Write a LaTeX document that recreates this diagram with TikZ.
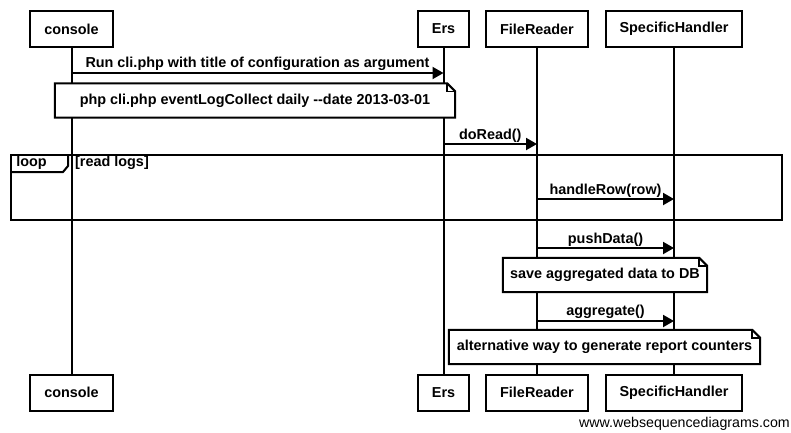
\documentclass[tikz,border=0pt]{standalone}
\usepackage{fontspec}
\setmainfont{Liberation Sans}
\usetikzlibrary{arrows.meta}

\begin{document}
\begin{tikzpicture}[
    x=1pt, y=-1pt,  % repère en pixels, y vers le bas
    every node/.style={font=\bfseries\fontsize{14.4}{16}\selectfont},
    acteur/.style={draw, line width=2pt, fill=white, minimum height=36pt, inner xsep=14pt},
    ligne/.style={line width=2pt},
    msg/.style={line width=2pt, -{Triangle[length=11pt,width=12pt]}}, % flèche pleine
    note/.style={fill=white, minimum height=34pt}
]
\useasboundingbox (0,0) rectangle (791,432);

% Acteurs en haut
\node[acteur] (console) at (71.5,29) {console};
\node[acteur] (ers) at (443.5,29) {Ers};
\node[acteur] (reader) at (537,29) {FileReader};
\node[acteur] (handler) at (674,29) {SpecificHandler};
% Acteurs en bas
\node[acteur] (console2) at (71.5,392.5) {console};
\node[acteur] (ers2) at (443.5,392.5) {Ers};
\node[acteur] (reader2) at (537,392.5) {FileReader};
\node[acteur] (handler2) at (674,392.5) {SpecificHandler};

% Lignes de vie
\draw[ligne] (console) -- (console2);
\draw[ligne] (ers) -- (ers2);
\draw[ligne] (reader) -- (reader2);
\draw[ligne] (handler) -- (handler2);

% Boucle
\draw[ligne] (11,155) rectangle (782,220);
\draw[ligne] (11,172) -- (63,172) -- (68,166) -- (68,155);
\node (boucle) at (31.5,163) {loop};
\node[anchor=west, inner xsep=0pt] (garde) at (75,163) {[read logs]};

% Messages
\coordinate (y1) at (0,73);
\coordinate (y2) at (0,144);
\coordinate (y3) at (0,199);
\coordinate (y4) at (0,248);
\coordinate (y5) at (0,321);
\draw[msg] (console |- y1) -- node[above, inner sep=1pt] {Run cli.php with title of configuration as argument} (ers |- y1);
\draw[msg] (ers |- y2) -- node[above, inner sep=1pt] {doRead()} (reader |- y2);
\draw[msg] (reader |- y3) -- node[above, inner sep=1pt] {handleRow(row)} (handler |- y3);
\draw[msg] (reader |- y4) -- node[above, inner sep=1pt] {pushData()} (handler |- y4);
\draw[msg] (reader |- y5) -- node[above, inner sep=1pt] {aggregate()} (handler |- y5);

% Notes
\node[note, minimum width=400pt] (n1) at (255,100.5) {php cli.php eventLogCollect daily -{}-date 2013-03-01};
\node[note, minimum width=204pt] (n2) at (605,275) {save aggregated data to DB};
\node[note, minimum width=311pt] (n3) at (604.5,347) {alternative way to generate report counters};
\foreach \n in {n1,n2,n3} {
    \draw[ligne] (\n.south west) |- ([xshift=-8pt]\n.north east) -- ([yshift=-8pt]\n.north east) |- cycle;
    \draw[line width=1.5pt] ([xshift=-8pt]\n.north east) |- ([yshift=-8pt]\n.north east);
}

\node[font=\fontsize{14.2}{16}\selectfont, anchor=east, inner xsep=1pt] (site) at (791,424) {www.websequencediagrams.com};
\end{tikzpicture}
\end{document}
